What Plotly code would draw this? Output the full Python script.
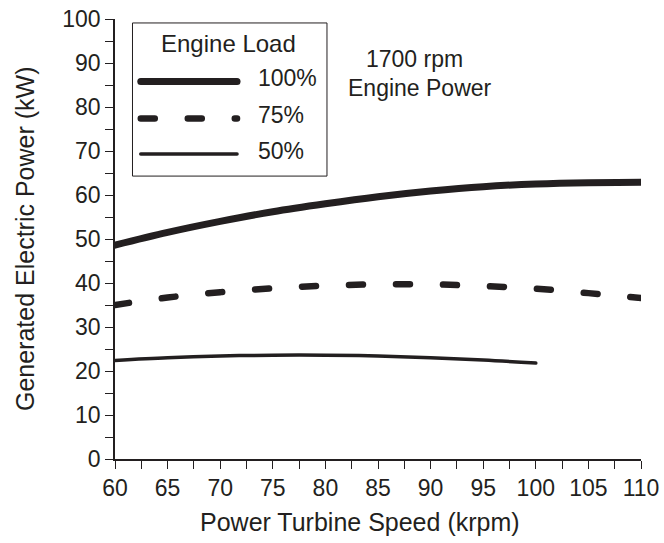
import plotly.graph_objects as go

# Power turbine speed (krpm) and generated electric power (kW) per engine load
speed_100 = [60, 65, 70, 75, 80, 85, 90, 95, 100, 105, 110]
power_100 = [48.6, 51.5, 54.0, 56.2, 58.0, 59.6, 60.9, 61.9, 62.5, 62.8, 62.9]

speed_75 = [60, 65, 70, 75, 80, 85, 90, 95, 100, 105, 110]
power_75 = [35.0, 36.7, 37.9, 38.8, 39.4, 39.7, 39.7, 39.3, 38.7, 37.7, 36.6]

speed_50 = [60, 65, 70, 75, 80, 85, 90, 95, 100]
power_50 = [22.4, 23.0, 23.4, 23.6, 23.6, 23.4, 23.0, 22.5, 21.8]

load_labels = ["100%", "75%", "50%"]

INK = "#231f20"
FONT = "Liberation Sans, Arial, sans-serif"
DASH = "14px,33px"

fig = go.Figure()
fig.add_trace(go.Scatter(x=speed_100, y=power_100, mode="lines", name=load_labels[0],
                         line=dict(color=INK, width=7, shape="spline"), cliponaxis=False))
fig.add_trace(go.Scatter(x=speed_75, y=power_75, mode="lines", name=load_labels[1],
                         line=dict(color=INK, width=6.5, shape="spline", dash=DASH),
                         cliponaxis=False))
fig.add_trace(go.Scatter(x=speed_50, y=power_50, mode="lines", name=load_labels[2],
                         line=dict(color=INK, width=3.5, shape="spline"), cliponaxis=False))

# Legend box drawn in paper coordinates
box_x0, box_x1 = 0.034, 0.403
box_y0, box_y1 = 0.643, 0.991
fig.add_shape(type="rect", xref="paper", yref="paper", x0=box_x0, x1=box_x1,
              y0=box_y0, y1=box_y1, line=dict(color=INK, width=1), fillcolor="white",
              layer="below")
fig.add_annotation(xref="paper", yref="paper", x=0.215, y=0.945, xanchor="center",
                   yanchor="middle", text="Engine Load", showarrow=False,
                   font=dict(size=24, color=INK, family=FONT))
legend_rows = [
    (0.858, dict(color=INK, width=7)),
    (0.774, dict(color=INK, width=6.5, dash=DASH)),
    (0.693, dict(color=INK, width=3.5)),
]
for (yy, ln), lab in zip(legend_rows, load_labels):
    fig.add_shape(type="line", xref="paper", yref="paper", x0=0.049, x1=0.232,
                  y0=yy, y1=yy, line=ln)
    fig.add_annotation(xref="paper", yref="paper", x=0.268, y=yy + 0.008, xanchor="left",
                       yanchor="middle", text=lab, showarrow=False,
                       font=dict(size=23, color=INK, family=FONT))

fig.add_annotation(xref="paper", yref="paper", x=0.57, y=0.909, xanchor="center",
                   yanchor="middle", text="1700 rpm", showarrow=False,
                   font=dict(size=23, color=INK, family=FONT))
fig.add_annotation(xref="paper", yref="paper", x=0.58, y=0.843, xanchor="center",
                   yanchor="middle", text="Engine Power", showarrow=False,
                   font=dict(size=23, color=INK, family=FONT))

# Axis titles
fig.add_annotation(xref="paper", yref="paper", x=0.466, y=-0.143, xanchor="center",
                   yanchor="middle", text="Power Turbine Speed (krpm)", showarrow=False,
                   font=dict(size=25, color=INK, family=FONT))
fig.add_annotation(xref="paper", yref="paper", x=-0.171, y=0.5, xanchor="center",
                   yanchor="middle", textangle=-90, text="Generated Electric Power (kW)",
                   showarrow=False, font=dict(size=25, color=INK, family=FONT))

fig.update_layout(
    width=664, height=543,
    margin=dict(l=115, r=23, t=19, b=84),
    paper_bgcolor="white", plot_bgcolor="white",
    showlegend=False,
    font=dict(family=FONT, color=INK, size=23),
)
fig.update_xaxes(
    range=[60, 110], tickmode="linear", tick0=60, dtick=5, automargin=False,
    ticks="outside", ticklen=8, tickwidth=1.2, tickcolor=INK,
    minor=dict(dtick=2.5, ticks="outside", ticklen=8, tickwidth=1.2, tickcolor=INK),
    showline=True, linecolor=INK, linewidth=1.5, showgrid=False, zeroline=False,
    tickfont=dict(size=23, color=INK),
)
fig.update_yaxes(
    range=[0, 100], tickmode="linear", tick0=0, dtick=10, automargin=False,
    ticks="outside", ticklen=8, tickwidth=1.2, tickcolor=INK,
    minor=dict(dtick=5, ticks="outside", ticklen=8, tickwidth=1.2, tickcolor=INK),
    showline=True, linecolor=INK, linewidth=1.5, showgrid=False, zeroline=False,
    tickfont=dict(size=23, color=INK),
)

# Round line ends for the curves and the legend samples
round_caps = """
document.querySelectorAll('.scatterlayer path.js-line, .shapelayer path').forEach(function (p) {
  p.style.strokeLinecap = 'round';
});
"""

fig.write_html("out.html", post_script=round_caps)
